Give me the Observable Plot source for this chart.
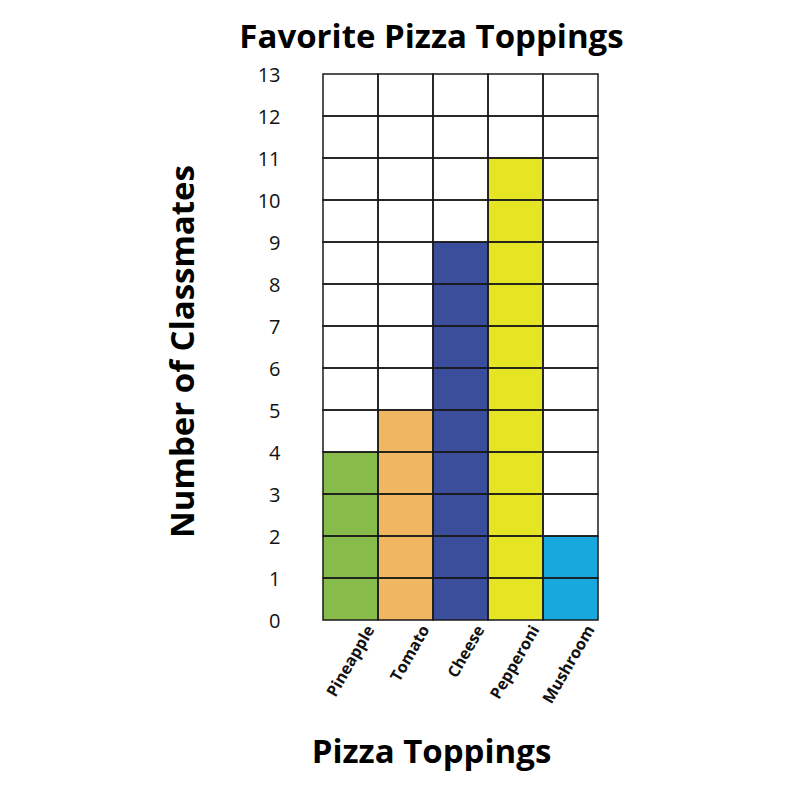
<!DOCTYPE html>
<html>
<head>
<meta charset="utf-8">
<script src="https://cdn.jsdelivr.net/npm/d3@7"></script>
<script src="https://cdn.jsdelivr.net/npm/@observablehq/plot@0.6"></script>
<style>
  html, body { margin: 0; padding: 0; background: #fff; }
  svg { display: block; }
</style>
</head>
<body>
<div id="chart"></div>
<script>
const categories = ["Pineapple", "Tomato", "Cheese", "Pepperoni", "Mushroom"];
const counts = [4, 5, 9, 11, 2];
const colors = ["#88bc4a", "#f0b662", "#3a4e9b", "#e5e524", "#18a8de"];
const yTicks = [0,1,2,3,4,5,6,7,8,9,10,11,12,13];
const title = "Favorite Pizza Toppings";
const xTitle = "Pizza Toppings";
const yTitle = "Number of Classmates";

const bars = categories.map((c, i) => ({topping: c, count: counts[i], color: colors[i]}));
const cells = [];
for (const c of categories) for (const t of yTicks.slice(0, -1)) cells.push({topping: c, y1: t, y2: t + 1});

const font = "'Open Sans', sans-serif";

const chart = Plot.plot({
  width: 800,
  height: 800,
  marginLeft: 321,
  marginRight: 201,
  marginTop: 74,
  marginBottom: 180,
  style: {fontFamily: font, background: "#fff"},
  x: {domain: categories, padding: 0, axis: null},
  y: {domain: [0, 13], axis: null},
  marks: [
    Plot.barY(bars, {x: "topping", y: "count", fill: "color"}),
    Plot.rectY(cells, {x: "topping", y1: "y1", y2: "y2", fill: "none", stroke: "#1a1a1a", strokeWidth: 1.5}),
    Plot.text(yTicks, {x: null, y: d => d, frameAnchor: "left", dx: -41, dy: 1, text: d => String(d), textAnchor: "end", fontSize: 20, fill: "#111"}),
    Plot.text(categories, {x: d => d, frameAnchor: "bottom", dx: 24, dy: 9, rotate: -60, textAnchor: "end", lineAnchor: "bottom", text: d => d, fontSize: 16, fontWeight: "bold", fill: "#111"}),
    Plot.text([title], {frameAnchor: "top", dx: -29, dy: -37, lineAnchor: "middle", text: d => d, fontSize: 33, fontWeight: "bold", fill: "#000"}),
    Plot.text([xTitle], {frameAnchor: "bottom", dx: -29, dy: 132, lineAnchor: "middle", text: d => d, fontSize: 33, fontWeight: "bold", fill: "#000"}),
    Plot.text([yTitle], {frameAnchor: "left", dx: -138, dy: 4, rotate: -90, lineAnchor: "middle", textAnchor: "middle", text: d => d, fontSize: 33, fontWeight: "bold", fill: "#000"})
  ]
});
document.getElementById("chart").appendChild(chart);
</script>
</body>
</html>
